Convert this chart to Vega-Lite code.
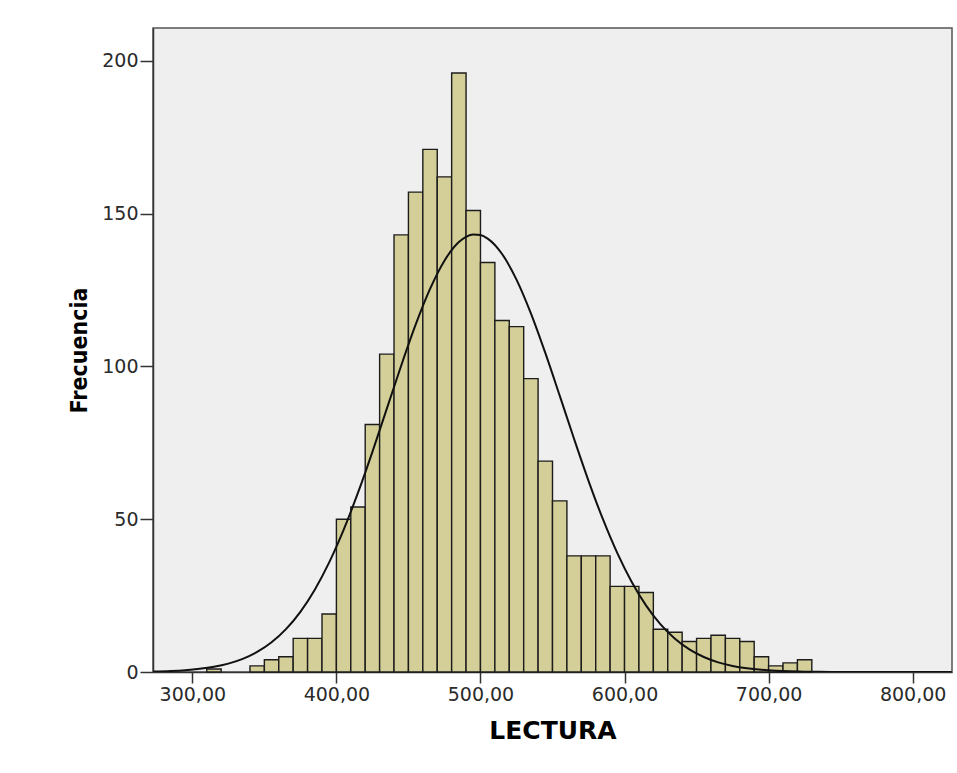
{
  "$schema": "https://vega.github.io/schema/vega-lite/v6.json",
  "width": 799,
  "height": 644,
  "autosize": "none",
  "padding": {"left": 153, "top": 28, "right": 5, "bottom": 101},
  "background": "white",
  "datasets": {
    "bins": [
      {"start": 310, "end": 320, "count": 1},
      {"start": 340, "end": 350, "count": 2},
      {"start": 350, "end": 360, "count": 4},
      {"start": 360, "end": 370, "count": 5},
      {"start": 370, "end": 380, "count": 11},
      {"start": 380, "end": 390, "count": 11},
      {"start": 390, "end": 400, "count": 19},
      {"start": 400, "end": 410, "count": 50},
      {"start": 410, "end": 420, "count": 54},
      {"start": 420, "end": 430, "count": 81},
      {"start": 430, "end": 440, "count": 104},
      {"start": 440, "end": 450, "count": 143},
      {"start": 450, "end": 460, "count": 157},
      {"start": 460, "end": 470, "count": 171},
      {"start": 470, "end": 480, "count": 162},
      {"start": 480, "end": 490, "count": 196},
      {"start": 490, "end": 500, "count": 151},
      {"start": 500, "end": 510, "count": 134},
      {"start": 510, "end": 520, "count": 115},
      {"start": 520, "end": 530, "count": 113},
      {"start": 530, "end": 540, "count": 96},
      {"start": 540, "end": 550, "count": 69},
      {"start": 550, "end": 560, "count": 56},
      {"start": 560, "end": 570, "count": 38},
      {"start": 570, "end": 580, "count": 38},
      {"start": 580, "end": 590, "count": 38},
      {"start": 590, "end": 600, "count": 28},
      {"start": 600, "end": 610, "count": 28},
      {"start": 610, "end": 620, "count": 26},
      {"start": 620, "end": 630, "count": 14},
      {"start": 630, "end": 640, "count": 13},
      {"start": 640, "end": 650, "count": 10},
      {"start": 650, "end": 660, "count": 11},
      {"start": 660, "end": 670, "count": 12},
      {"start": 670, "end": 680, "count": 11},
      {"start": 680, "end": 690, "count": 10},
      {"start": 690, "end": 700, "count": 5},
      {"start": 700, "end": 710, "count": 2},
      {"start": 710, "end": 720, "count": 3},
      {"start": 720, "end": 730, "count": 4}
    ],
    "curve": [
      {"lectura": 273, "frecuencia": 0.17},
      {"lectura": 285, "frecuencia": 0.35},
      {"lectura": 295, "frecuencia": 0.61},
      {"lectura": 305, "frecuencia": 1.04},
      {"lectura": 315, "frecuencia": 1.71},
      {"lectura": 325, "frecuencia": 2.75},
      {"lectura": 335, "frecuencia": 4.3},
      {"lectura": 345, "frecuencia": 6.55},
      {"lectura": 355, "frecuencia": 9.72},
      {"lectura": 365, "frecuencia": 14.02},
      {"lectura": 375, "frecuencia": 19.7},
      {"lectura": 385, "frecuencia": 26.94},
      {"lectura": 395, "frecuencia": 35.87},
      {"lectura": 405, "frecuencia": 46.5},
      {"lectura": 415, "frecuencia": 58.66},
      {"lectura": 425, "frecuencia": 72.04},
      {"lectura": 435, "frecuencia": 86.15},
      {"lectura": 445, "frecuencia": 100.27},
      {"lectura": 455, "frecuencia": 113.62},
      {"lectura": 465, "frecuencia": 125.33},
      {"lectura": 475, "frecuencia": 134.58},
      {"lectura": 485, "frecuencia": 140.68},
      {"lectura": 490, "frecuencia": 142.39},
      {"lectura": 495, "frecuencia": 143.16},
      {"lectura": 500, "frecuencia": 142.97},
      {"lectura": 505, "frecuencia": 141.81},
      {"lectura": 515, "frecuencia": 136.77},
      {"lectura": 525, "frecuencia": 128.39},
      {"lectura": 535, "frecuencia": 117.34},
      {"lectura": 545, "frecuencia": 104.39},
      {"lectura": 555, "frecuencia": 90.42},
      {"lectura": 565, "frecuencia": 76.23},
      {"lectura": 575, "frecuencia": 62.56},
      {"lectura": 585, "frecuencia": 49.99},
      {"lectura": 595, "frecuencia": 38.88},
      {"lectura": 605, "frecuencia": 29.44},
      {"lectura": 615, "frecuencia": 21.7},
      {"lectura": 625, "frecuencia": 15.57},
      {"lectura": 635, "frecuencia": 10.88},
      {"lectura": 645, "frecuencia": 7.39},
      {"lectura": 655, "frecuencia": 4.9},
      {"lectura": 665, "frecuencia": 3.16},
      {"lectura": 675, "frecuencia": 1.98},
      {"lectura": 685, "frecuencia": 1.21},
      {"lectura": 695, "frecuencia": 0.72},
      {"lectura": 705, "frecuencia": 0.42},
      {"lectura": 715, "frecuencia": 0.23},
      {"lectura": 725, "frecuencia": 0.12},
      {"lectura": 735, "frecuencia": 0.06},
      {"lectura": 750, "frecuencia": 0.02},
      {"lectura": 775, "frecuencia": 0},
      {"lectura": 800, "frecuencia": 0},
      {"lectura": 827, "frecuencia": 0}
    ]
  },
  "layer": [
    {
      "data": {"name": "bins"},
      "mark": {"type": "bar", "fill": "#D4CF98", "stroke": "#1c1c1c", "strokeWidth": 1.4},
      "encoding": {
        "x": {
          "field": "start",
          "type": "quantitative",
          "title": "LECTURA",
          "scale": {"domain": [272.7, 827.3], "nice": false, "zero": false},
          "axis": {
            "values": [300, 400, 500, 600, 700, 800],
            "labelExpr": "replace(format(datum.value, '.2f'), '.', ',')",
            "tickSize": 11,
            "labelPadding": 2,
            "titlePadding": 14
          }
        },
        "x2": {"field": "end"},
        "y": {
          "field": "count",
          "type": "quantitative",
          "title": "Frecuencia",
          "scale": {"domain": [0, 210.7], "nice": false},
          "axis": {
            "values": [0, 50, 100, 150, 200],
            "tickSize": 13,
            "labelPadding": 2,
            "titlePadding": 10,
            "titleFont": "DejaVu Sans Condensed, Liberation Sans",
            "titleFontSize": 23
          }
        },
        "y2": {"datum": 0}
      }
    },
    {
      "data": {"name": "curve"},
      "mark": {"type": "line", "color": "#111111", "strokeWidth": 2, "interpolate": "monotone", "clip": true},
      "encoding": {
        "x": {"field": "lectura", "type": "quantitative"},
        "y": {"field": "frecuencia", "type": "quantitative"}
      }
    }
  ],
  "config": {
    "view": {"fill": "#EFEFEF", "stroke": "#555555", "strokeWidth": 1.5},
    "axis": {
      "grid": false,
      "domainColor": "#333333",
      "domainWidth": 1.5,
      "tickColor": "#333333",
      "tickWidth": 1.5,
      "labelFont": "DejaVu Sans",
      "labelFontSize": 19,
      "labelColor": "#2a2a2a",
      "titleFont": "DejaVu Sans",
      "titleFontWeight": "bold",
      "titleFontSize": 25,
      "titleColor": "#000000"
    }
  }
}
